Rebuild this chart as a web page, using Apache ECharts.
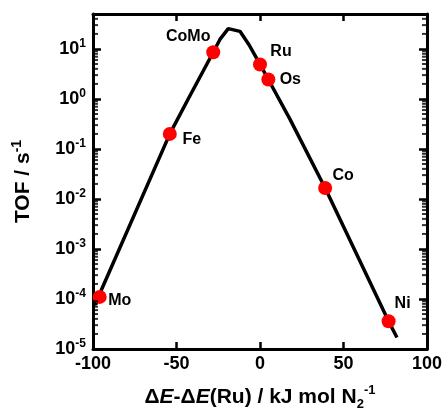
<!DOCTYPE html>
<html><head><meta charset="utf-8">
<script src="https://cdn.jsdelivr.net/npm/echarts@6/dist/echarts.min.js"></script>
<style>html,body{margin:0;padding:0;background:#fff}#c{width:445px;height:410px}</style>
</head><body><div id="c"></div>
<script>
// ---- data ----
const catalysts   = ['Mo', 'Fe', 'CoMo', 'Ru', 'Os', 'Co', 'Ni'];
const catalystDE  = [-96, -54, -28, 0, 5, 39, 77];
const catalystTOF = [1.1e-4, 0.2, 8.6, 4.9, 2.45, 0.0166, 3.6e-5];
const curveDE  = [-99, -54, -43, -28, -24, -19, -12, -6.5, -2, 0, 5, 18, 39, 77, 82];
const curveTOF = [7.5e-5, 0.2, 1.0, 8.6, 15.5, 25.5, 22.5, 12, 6.5, 4.9, 2.45, 0.39, 0.0166, 3.6e-5, 1.7e-5];
const xTicks = [-100, -50, 0, 50, 100];
const yDecades = [-5, -4, -3, -2, -1, 0, 1];
const minorMultipliers = [2, 3, 4, 5, 6, 7, 8, 9];
const yMin = 1e-5, yMax = 50;

// ---- label layout (style only) ----
const labelOffsets = {Mo: [20, 4], Fe: [22, 6], CoMo: [-25, -16], Ru: [21, -13], Os: [22, 0], Co: [18, -12], Ni: [14, -18]};

const FONT = 'Liberation Sans';
const minorVals = [];
yDecades.forEach(d => minorMultipliers.forEach(k => { const v = k * Math.pow(10, d); if (v <= yMax) minorVals.push(v); }));

const chart = echarts.init(document.getElementById('c'), null, {renderer: 'canvas'});
const axisLine = {show: true, onZero: false, lineStyle: {color: '#000', width: 3}};
const yLabelFmt = v => {
  const e = Math.round(Math.log10(v));
  if (Math.abs(v - Math.pow(10, e)) > 1e-6 * v) return '';
  return '{b|10}{s|' + e + '}';
};
chart.setOption({
  animation: false,
  backgroundColor: '#fff',
  grid: {left: 93, right: 18, top: 14, bottom: 61, containLabel: false, outerBoundsMode: 'none'},
  xAxis: [{
    type: 'value', min: xTicks[0], max: xTicks[xTicks.length - 1], interval: 50,
    position: 'bottom',
    axisLine: axisLine,
    axisTick: {show: true, inside: true, length: 7, lineStyle: {color: '#000', width: 2.5}},
    splitLine: {show: false},
    axisLabel: {show: true, margin: 6, color: '#000', fontFamily: FONT, fontWeight: 'bold', fontSize: 18},
    name: '{n|\u0394}{i|E}{n|-\u0394}{i|E}{n|(Ru) / kJ mol N}{sub|2}{sup|-1}',
    nameLocation: 'middle', nameGap: 35,
    nameTextStyle: {
      color: '#000', fontFamily: FONT, fontWeight: 'bold', fontSize: 21,
      rich: {
        n: {fontFamily: FONT, fontWeight: 'bold', fontSize: 21, color: '#000', lineHeight: 27},
        i: {fontFamily: FONT, fontWeight: 'bold', fontStyle: 'italic', fontSize: 21, color: '#000', lineHeight: 27},
        sub: {fontFamily: FONT, fontWeight: 'bold', fontSize: 13, color: '#000', verticalAlign: 'bottom', lineHeight: 13},
        sup: {fontFamily: FONT, fontWeight: 'bold', fontSize: 13, color: '#000', verticalAlign: 'top', lineHeight: 13}
      }
    }
  }, {
    type: 'value', min: xTicks[0], max: xTicks[xTicks.length - 1], interval: 50,
    position: 'top',
    axisLine: axisLine,
    axisTick: {show: true, inside: true, length: 7, lineStyle: {color: '#000', width: 2.5}},
    splitLine: {show: false},
    axisLabel: {show: false}
  }],
  yAxis: [{
    type: 'log', logBase: 10, min: yMin, max: yMax,
    position: 'left',
    axisLine: axisLine,
    axisTick: {show: true, inside: true, length: 8, lineStyle: {color: '#000', width: 2.5}},
    splitLine: {show: false},
    minorTick: {show: false},
    axisLabel: {
      show: true, margin: 7, formatter: yLabelFmt,
      rich: {
        b: {fontFamily: FONT, fontWeight: 'bold', fontSize: 18, color: '#000', lineHeight: 22},
        s: {fontFamily: FONT, fontWeight: 'bold', fontSize: 12, color: '#000', verticalAlign: 'top', lineHeight: 12}
      }
    },
    name: '{n|TOF / s}{sup|-1}',
    nameLocation: 'middle', nameGap: 57, nameRotate: 90,
    nameTextStyle: {
      color: '#000', fontFamily: FONT, fontWeight: 'bold', fontSize: 21,
      rich: {
        n: {fontFamily: FONT, fontWeight: 'bold', fontSize: 21, color: '#000', lineHeight: 26},
        sup: {fontFamily: FONT, fontWeight: 'bold', fontSize: 14, color: '#000', verticalAlign: 'top', lineHeight: 14}
      }
    }
  }, {
    type: 'log', logBase: 10, min: yMin, max: yMax,
    position: 'right',
    axisLine: axisLine,
    axisTick: {show: true, inside: true, length: 8, lineStyle: {color: '#000', width: 2.5}},
    splitLine: {show: false},
    axisLabel: {show: false}
  }],
  series: [{
    type: 'line', xAxisIndex: 0, yAxisIndex: 0,
    data: curveDE.map((x, i) => [x, curveTOF[i]]),
    showSymbol: false, symbol: 'none', smooth: false,
    lineStyle: {color: '#000', width: 3.5}, z: 2, silent: true
  }, {
    type: 'scatter', xAxisIndex: 0, yAxisIndex: 0,
    data: catalysts.map((n, i) => ({
      name: n, value: [catalystDE[i], catalystTOF[i]],
      label: {show: true, position: 'inside', offset: labelOffsets[n], formatter: n,
        color: '#000', fontFamily: FONT, fontWeight: 'bold', fontSize: 16}
    })),
    symbol: 'circle', symbolSize: 14,
    itemStyle: {color: '#ff0000', opacity: 1},
    z: 3, silent: true
  }, {
    type: 'scatter', xAxisIndex: 0, yAxisIndex: 0, clip: false,
    data: minorVals.map(v => [xTicks[0], v]),
    symbol: 'rect', symbolSize: [5, 2], symbolOffset: [2.5, 0],
    itemStyle: {color: '#000'}, z: 4, silent: true
  }, {
    type: 'scatter', xAxisIndex: 0, yAxisIndex: 0, clip: false,
    data: minorVals.map(v => [xTicks[xTicks.length - 1], v]),
    symbol: 'rect', symbolSize: [5, 2], symbolOffset: [-2.5, 0],
    itemStyle: {color: '#000'}, z: 4, silent: true
  }]
});
</script></body></html>
